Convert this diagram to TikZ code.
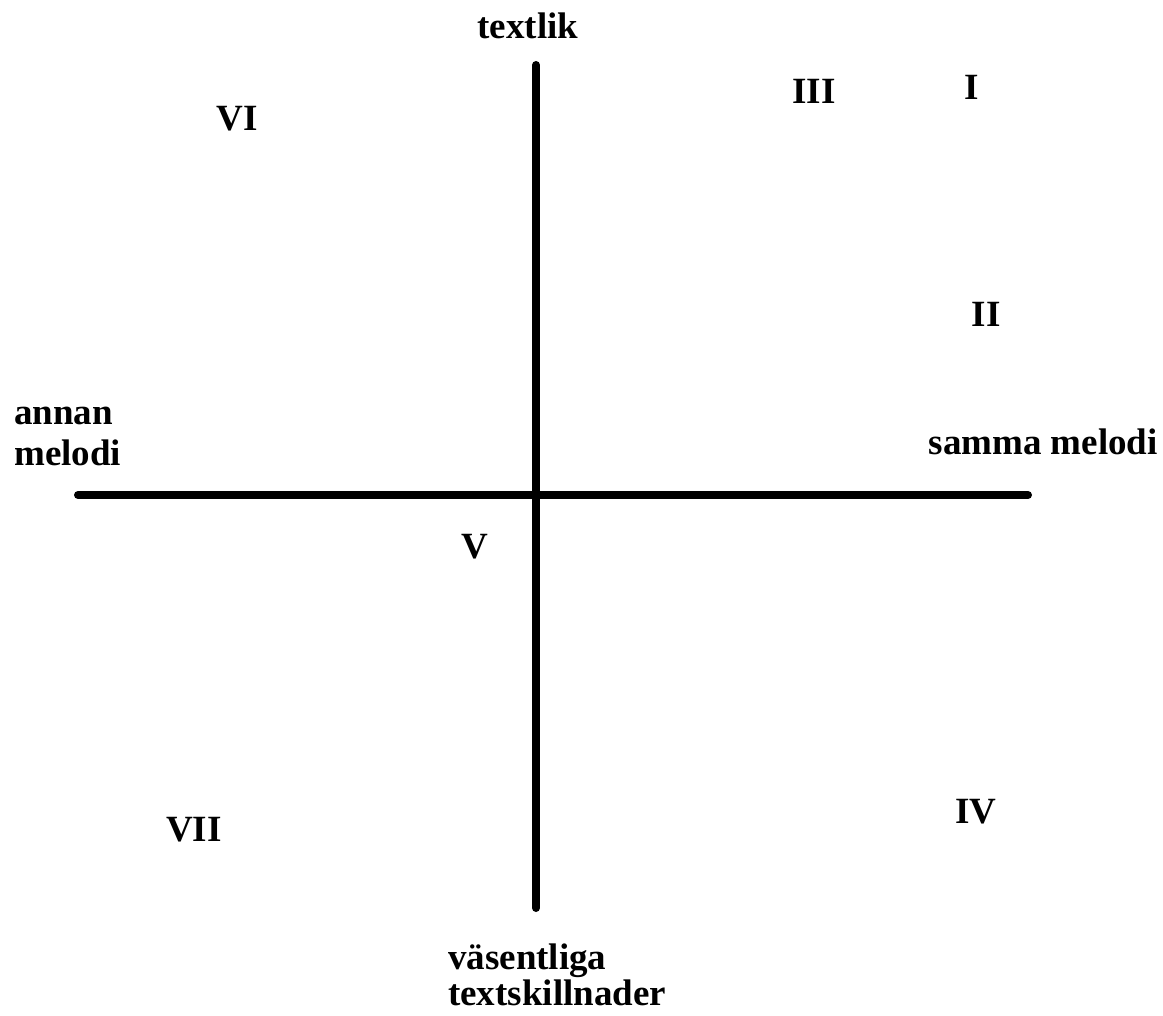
\documentclass[tikz,border=0pt]{standalone}
\usepackage{fontspec}
\setmainfont{Liberation Serif}
\usepackage{tikz}
\usetikzlibrary{positioning}
\tikzset{
  lbl/.style={font=\fontsize{37}{38}\selectfont\bfseries, inner sep=0pt, align=left},
  num/.style={lbl, anchor=base},
  axis/.style={line width=8pt, line cap=round, black}
}

\begin{document}
\begin{tikzpicture}[x=1pt, y=-1pt]
  \useasboundingbox (0,0) rectangle (1163,1016);
  % axes
  \coordinate (top) at (536,65);
  \coordinate (bot) at (536,908);
  \coordinate (lft) at (78,495);
  \coordinate (rgt) at (1028,495);
  \draw[axis] (top) -- (bot);
  \draw[axis] (lft) -- (rgt);
  % axis labels (base = last line)
  \node[lbl, anchor=base] (textlik) at (528,39) {textlik};
  \node[lbl, anchor=base west] (annan) at (14,466) {annan\\[3pt]melodi};
  \node[lbl, anchor=base east] (samma) at (1158,455) {samma melodi};
  \node[lbl, anchor=base west] (vasent) at (448,1005) {väsentliga\\[-2pt]textskillnader};
  % regions
  \node[num] (r1) at (972,100) {I};
  \node[num] (r2) at (986,327) {II};
  \node[num] (r3) at (814,104) {III};
  \node[num] (r4) at (976,823) {IV};
  \node[num] (r5) at (475,558) {V};
  \node[num] (r6) at (237,131) {VI};
  \node[num] (r7) at (194,841) {VII};
\end{tikzpicture}
\end{document}
